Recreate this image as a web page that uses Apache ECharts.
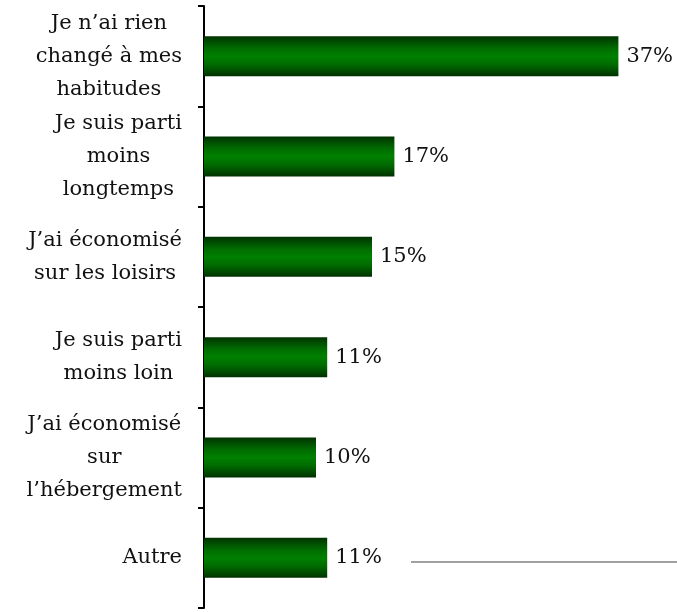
<!DOCTYPE html>
<html>
<head>
<meta charset="utf-8">
<script src="https://cdn.jsdelivr.net/npm/echarts@6/dist/echarts.min.js"></script>
<style>
  html, body { margin: 0; padding: 0; background: #fff; }
  #chart { width: 677px; height: 612px; }
</style>
</head>
<body>
<div id="chart"></div>
<script>
// Survey answers (one category per bar, top to bottom)
const categories = [
  'Je n\u2019ai rien\nchangé à mes\nhabitudes',
  'Je suis parti\nmoins\nlongtemps',
  'J\u2019ai économisé\nsur les loisirs',
  'Je suis parti\nmoins loin',
  'J\u2019ai économisé\nsur\nl\u2019hébergement',
  'Autre'
];
// Share of respondents, in percent
const values = [37, 17, 15, 11, 10, 11];

const FONT = '"DejaVu Serif", "Liberation Serif", serif';

const chart = echarts.init(document.getElementById('chart'), null, { renderer: 'canvas' });

const barFill = new echarts.graphic.LinearGradient(0, 0, 0, 1, [
  { offset: 0.00, color: '#003200' },
  { offset: 0.12, color: '#004a00' },
  { offset: 0.30, color: '#006c00' },
  { offset: 0.50, color: '#008000' },
  { offset: 0.70, color: '#006c00' },
  { offset: 0.88, color: '#004a00' },
  { offset: 1.00, color: '#003000' }
]);

chart.setOption({
  animation: false,
  backgroundColor: '#ffffff',
  grid: { left: 204, top: 6, right: 25, bottom: 4, containLabel: false },
  xAxis: {
    type: 'value',
    min: 0,
    max: 40,
    show: false
  },
  yAxis: {
    type: 'category',
    data: categories,
    inverse: true,
    axisLine: { show: true, lineStyle: { color: '#000', width: 2 } },
    axisTick: { show: true, length: 6, lineStyle: { color: '#000', width: 2 } },
    axisLabel: {
      margin: 22,
      align: 'right',
      formatter: function (v) {
        return v.split('\n').map(function (l) { return '{c|' + l + '}'; }).join('\n');
      },
      rich: {
        c: {
          align: 'center',
          fontFamily: FONT,
          fontSize: 21,
          lineHeight: 33,
          color: '#111'
        }
      }
    },
    splitLine: { show: false }
  },
  series: [{
    type: 'bar',
    data: values,
    barWidth: 40,
    itemStyle: { color: barFill },
    label: {
      show: true,
      position: 'right',
      distance: 8,
      formatter: '{c}%',
      fontFamily: FONT,
      fontSize: 21,
      color: '#111'
    }
  }],
  graphic: [{
    type: 'line',
    shape: { x1: 411, y1: 562, x2: 677, y2: 562 },
    style: { stroke: '#808080', lineWidth: 1.5 }
  }]
});
</script>
</body>
</html>
